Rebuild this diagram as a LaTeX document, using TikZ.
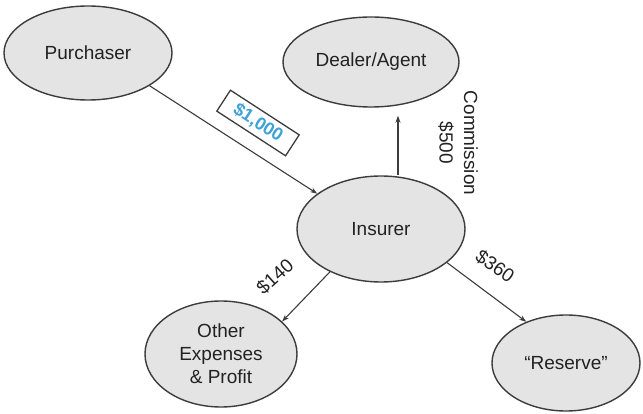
\documentclass[tikz,border=0pt]{standalone}
\usepackage{fontspec}
\setmainfont{Liberation Sans}
\usetikzlibrary{shapes.geometric,arrows.meta}
\definecolor{ellfill}{HTML}{E4E4E4}
\definecolor{ellline}{HTML}{3C3C3C}
\definecolor{txt}{HTML}{222222}
\definecolor{moneyblue}{HTML}{3DA2D8}
\begin{document}
\begin{tikzpicture}[x=1pt,y=-1pt,
  ell/.style={ellipse, draw=ellline, line width=1.4pt, fill=ellfill, inner sep=0pt,
    text=txt, font=\fontsize{19}{23}\selectfont, align=center},
  arr/.style={draw=ellline, line width=1.1pt, -{Stealth[length=7pt,width=5pt]}},
  lbl/.style={text=txt, font=\fontsize{19}{23}\selectfont, inner sep=0pt}
]
\useasboundingbox (0,0) rectangle (643,414);
\node[ell, minimum width=168pt, minimum height=94pt] (P) at (88,53) {Purchaser};
\node[ell, minimum width=176pt, minimum height=90pt] (D) at (371,62) {Dealer/Agent};
\node[ell, minimum width=168pt, minimum height=106pt] (I) at (381,229) {Insurer};
\node[ell, minimum width=152pt, minimum height=106pt] (O) at (221,354) {Other\\Expenses\\\& Profit};
\node[ell, minimum width=148pt, minimum height=96pt] (R) at (566,363) {“Reserve”};

\draw[arr] (P.332) -- (I.151);
\draw[arr] ([xshift=17pt]I.north) -- ([xshift=27pt,yshift=-8pt]D.south);
\draw[arr] (I.220) -- (O.28);
\draw[arr] (I.333) -- (R.134);

\node[draw=ellline, line width=1.3pt, fill=white, rotate=-33, minimum width=82pt, minimum height=25pt,
  inner sep=0pt, text=moneyblue, font=\fontsize{18}{20}\selectfont\bfseries] (M) at (258,123) {\$1,000};
\node[lbl, rotate=-90] (C) at (471,143) {Commission};
\node[lbl, rotate=-90] (F) at (446,143) {\$500};
\node[lbl, rotate=42] (E) at (275,277) {\$140};
\node[lbl, rotate=-35] (S) at (495,266) {\$360};
\end{tikzpicture}
\end{document}
